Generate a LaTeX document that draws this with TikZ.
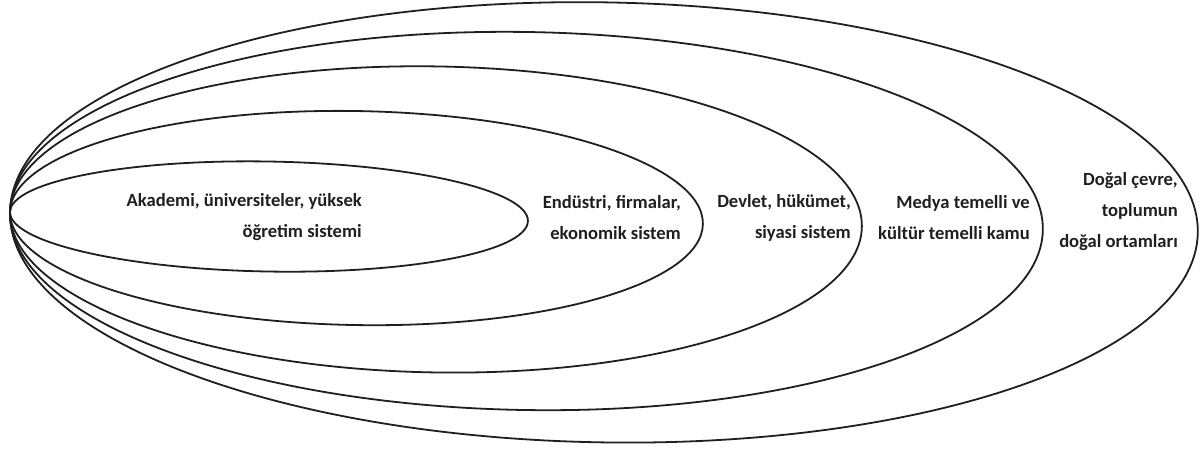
\documentclass[tikz,border=0pt]{standalone}
\usepackage{fontspec}
\setmainfont{Carlito}
\usetikzlibrary{shapes,calc}

\begin{document}
\begin{tikzpicture}[x=1pt, y=1pt, ring/.style={draw=black!88, line width=1.8pt, ellipse, inner sep=0pt, rotate=-1}, lbl/.style={font=\fontsize{18.6}{31}\selectfont\bfseries, align=right, anchor=east, text=black!88, inner sep=0pt}]
  \useasboundingbox (0,0) rectangle (1200,448);
  \coordinate (tip) at (10,236);

  % Nested rings, all touching at the tip
  \node[ring, minimum width=518pt, minimum height=110pt] (acad) at ($(tip)+(-1:259)$) {};
  \node[ring, minimum width=693pt, minimum height=214pt] (ind) at ($(tip)+(-1:346.5)$) {};
  \node[ring, minimum width=852pt, minimum height=306pt] (gov) at ($(tip)+(-1:426)$) {};
  \node[ring, minimum width=1033pt, minimum height=378pt] (media) at ($(tip)+(-1:516.5)$) {};
  \node[ring, minimum width=1188pt, minimum height=440pt] (env) at ($(tip)+(-1:594)$) {};

  % Labels of the rings
  \node[lbl] (acadtxt) at (362,230.5) {Akademi, üniversiteler, yüksek\\öğretim sistemi};
  \node[lbl] (indtxt) at (681,230.5) {Endüstri, firmalar,\\ekonomik sistem};
  \node[lbl] (govtxt) at (851,230.5) {Devlet, hükümet,\\siyasi sistem};
  \node[lbl] (mediatxt) at (1030,230.5) {Medya temelli ve\\kültür temelli kamu};
  \node[lbl] (envtxt) at (1178,236) {Doğal çevre,\\toplumun\\doğal ortamları};
\end{tikzpicture}
\end{document}
